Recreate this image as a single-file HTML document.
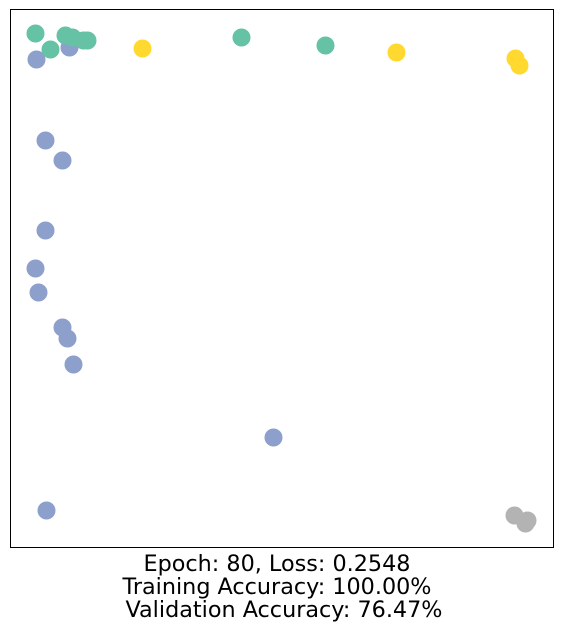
<!DOCTYPE html>
<html><head><meta charset="utf-8"><style>
body{margin:0;background:#fff;width:562px;height:630px;overflow:hidden}
text{font-family:"DejaVu Sans","Liberation Sans",sans-serif}
</style></head><body>
<svg width="562" height="630">
<rect x="10.5" y="9.5" width="543" height="538" fill="#fff" stroke="#000" stroke-width="1"/>
<g id="pts"></g>
<text x="277" y="571" font-size="22.3" text-anchor="middle">Epoch: 80, Loss: 0.2548</text>
<text x="277" y="594" font-size="22.3" text-anchor="middle" textLength="309" lengthAdjust="spacingAndGlyphs">Training Accuracy: 100.00%</text>
<text x="284" y="617" font-size="22.3" text-anchor="middle">Validation Accuracy: 76.47%</text>
</svg>
<script>
const classes=["blue","green","yellow","gray"];
const colors={blue:"#8da0cb",green:"#66c2a5",yellow:"#ffd92f",gray:"#b3b3b3"};
const xs={
blue:[26,59,35,52,35,25,28,52,57,63,263,36],
green:[25,40,55,62,73,77,231,315],
yellow:[132,386,505,509],
gray:[504,517,515]};
const ys={
blue:[50,38,131,151,221,259,283,318,329,355,428,501],
green:[24,40,26,28,31,31,28,36],
yellow:[39,43,49,56],
gray:[506,511,514]};
function sx(v){return 10.5+v;}
function sy(v){return 9.5+v;}
const g=document.getElementById('pts');
classes.forEach(c=>{xs[c].forEach((x,i)=>{
const el=document.createElementNS("http://www.w3.org/2000/svg","circle");
el.setAttribute('cx',sx(x));el.setAttribute('cy',sy(ys[c][i]));el.setAttribute('r',9);
el.setAttribute('fill',colors[c]);


g.appendChild(el);});});
</script>
</body></html>
